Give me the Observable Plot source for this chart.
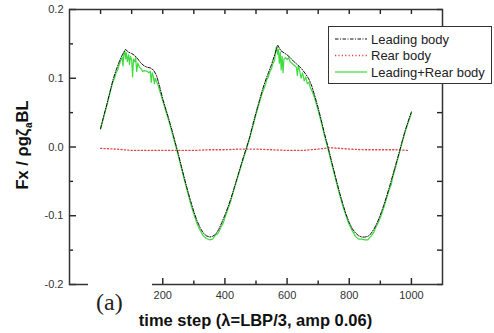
<!DOCTYPE html>
<html><head><meta charset="utf-8">
<script src="https://cdn.jsdelivr.net/npm/d3@7"></script>
<script src="https://cdn.jsdelivr.net/npm/@observablehq/plot@0.6"></script>
<style>
body{margin:0;background:#fff;}
#wrap{position:relative;width:494px;height:333px;}
</style></head><body><div id="wrap"></div>
<script>
// ---- data ----
const leadingStep = [0,10,20,30,40,50,60,70,80,90,100,110,120,130,140,150,160,170,180,190,200,210,220,230,240,250,260,270,280,290,300,310,320,330,340,350,360,370,380,390,400,410,420,430,440,450,460,470,480,490,500,510,520,530,540,550,560,570,580,590,600,610,620,630,640,650,660,670,680,690,700,710,720,730,740,750,760,770,780,790,800,810,820,830,840,850,860,870,880,890,900,910,920,930,940,950,960,970,980,990,1000];
const leadingFx = [0.027,0.045,0.062,0.080,0.098,0.112,0.124,0.134,0.142,0.138,0.136,0.133,0.128,0.122,0.118,0.116,0.115,0.112,0.104,0.088,0.070,0.055,0.040,0.024,0.007,-0.010,-0.028,-0.046,-0.063,-0.079,-0.094,-0.107,-0.117,-0.125,-0.129,-0.131,-0.130,-0.127,-0.120,-0.110,-0.099,-0.087,-0.074,-0.059,-0.044,-0.029,-0.014,0.000,0.015,0.033,0.050,0.066,0.082,0.096,0.108,0.120,0.134,0.148,0.140,0.137,0.134,0.130,0.125,0.121,0.117,0.112,0.106,0.099,0.088,0.073,0.057,0.039,0.020,0.003,-0.015,-0.033,-0.051,-0.068,-0.084,-0.098,-0.110,-0.119,-0.125,-0.129,-0.131,-0.131,-0.130,-0.126,-0.119,-0.110,-0.099,-0.086,-0.072,-0.057,-0.041,-0.025,-0.009,0.008,0.024,0.038,0.051];

const rearStep = [0,50,100,150,200,250,300,350,400,450,500,550,600,650,700,740,800,850,900,950,990];
const rearFx = [-0.002,-0.003,-0.005,-0.005,-0.005,-0.005,-0.005,-0.004,-0.004,-0.003,-0.003,-0.004,-0.005,-0.005,-0.003,-0.001,-0.003,-0.004,-0.004,-0.004,-0.005];

const totalStep = [0,10,20,30,40,45,50,55,60,65,70,72,75,78,80,83,86,90,93,96,100,103,106,110,113,116,120,125,130,135,140,150,155,160,163,166,170,173,176,180,185,190,200,210,220,230,240,250,260,270,280,290,300,310,320,330,340,350,360,370,375,380,390,395,400,410,420,430,440,450,460,470,480,490,500,510,520,530,535,540,545,550,555,560,563,566,569,572,575,578,581,584,587,590,595,600,605,610,620,630,633,636,640,645,650,655,660,665,670,675,680,690,700,710,720,730,740,750,760,770,780,790,800,810,820,830,840,850,860,865,870,880,885,890,900,910,920,930,935,940,950,960,970,980,990,1000];
const totalFx = [0.026,0.043,0.060,0.078,0.095,0.100,0.108,0.112,0.120,0.126,0.130,0.118,0.136,0.140,0.128,0.137,0.124,0.134,0.120,0.132,0.126,0.102,0.128,0.124,0.130,0.110,0.122,0.116,0.114,0.110,0.111,0.110,0.108,0.110,0.094,0.108,0.102,0.092,0.100,0.095,0.090,0.082,0.067,0.052,0.037,0.021,0.004,-0.013,-0.031,-0.049,-0.066,-0.083,-0.098,-0.111,-0.121,-0.129,-0.133,-0.135,-0.134,-0.128,-0.127,-0.124,-0.114,-0.110,-0.103,-0.090,-0.077,-0.061,-0.046,-0.031,-0.016,-0.002,0.013,0.030,0.047,0.063,0.078,0.090,0.098,0.102,0.110,0.114,0.122,0.126,0.140,0.146,0.135,0.142,0.122,0.138,0.112,0.132,0.108,0.128,0.130,0.127,0.130,0.124,0.120,0.116,0.104,0.118,0.112,0.100,0.108,0.096,0.102,0.092,0.094,0.086,0.082,0.069,0.053,0.036,0.017,0.000,-0.018,-0.036,-0.054,-0.071,-0.087,-0.101,-0.113,-0.122,-0.130,-0.134,-0.134,-0.135,-0.135,-0.132,-0.130,-0.123,-0.117,-0.113,-0.103,-0.090,-0.075,-0.060,-0.055,-0.044,-0.028,-0.011,0.006,0.022,0.036,0.049];

const seriesNames = ["Leading body","Rear body","Leading+Rear body"];
const xDomain = [-100,1100];
const yDomain = [-0.2,0.2];
const xMajorTicks = [200,400,600,800,1000];
const xMinorTicks = [0,100,300,500,700,900];
const xTopTicks = [0,100,200,300,400,500,600,700,800,900,1000];
const yMajorTicks = [-0.2,-0.1,0,0.1,0.2];
const yMinorTicks = [-0.15,-0.05,0.05,0.15];
const xTitle = "time step (\u03bb=LBP/3, amp 0.06)";
const panelLabel = "(a)";

// ---- build tables ----
const leading = leadingStep.map((s,i)=>({x:s,y:leadingFx[i]}));
const rear = rearStep.map((s,i)=>({x:s,y:rearFx[i]}));
const total = totalStep.map((s,i)=>({x:s,y:totalFx[i]}));

const colors = {lead:"#111", rear:"#e0474c", total:"#3ddc3d"};
const dash = {lead:"3.5,1.5,1,1.5", rear:"1.2,2.2"};
const tickStyle = {stroke:"#222", strokeWidth:1.4};
const [xLo,xHi] = xDomain, [yLo,yHi] = yDomain;

const plot = Plot.plot({
  width:494, height:333,
  marginLeft:69, marginRight:52, marginTop:9, marginBottom:49,
  style:{fontFamily:"Arial, 'Liberation Sans', sans-serif", fontSize:"11px", color:"#333", background:"#fff"},
  x:{domain:xDomain},
  y:{domain:yDomain},
  marks:[
    Plot.line(rear,{x:"x",y:"y",stroke:colors.rear,strokeWidth:1.3,strokeDasharray:dash.rear}),
    Plot.line(total,{x:"x",y:"y",stroke:colors.total,strokeWidth:1.2}),
    Plot.line(leading,{x:"x",y:"y",stroke:colors.lead,strokeWidth:1,strokeDasharray:dash.lead}),
    // inward ticks (rules anchored on the frame, lengthened by negative insets)
    Plot.ruleX(xMajorTicks,{x:d=>d,y1:yLo,y2:yLo,insetTop:-6,...tickStyle}),
    Plot.ruleX(xMinorTicks,{x:d=>d,y1:yLo,y2:yLo,insetTop:-3.5,...tickStyle}),
    Plot.ruleX(xTopTicks,{x:d=>d,y1:yHi,y2:yHi,insetBottom:-5,...tickStyle}),
    Plot.ruleY(yMajorTicks,{y:d=>d,x1:xLo,x2:xLo,insetRight:-7,...tickStyle}),
    Plot.ruleY(yMinorTicks,{y:d=>d,x1:xLo,x2:xLo,insetRight:-4,...tickStyle}),
    Plot.ruleY(yMajorTicks.concat(yMinorTicks),{y:d=>d,x1:xHi,x2:xHi,insetLeft:-5,...tickStyle}),
    Plot.frame({stroke:"#333",strokeWidth:1.5}),
    Plot.axisX({anchor:"bottom",ticks:xMajorTicks,tickSize:0,tickPadding:7,tickFormat:d=>String(d),label:null}),
    Plot.axisY({anchor:"left",ticks:yMajorTicks,tickSize:0,tickPadding:6,tickFormat:d=>d.toFixed(1),label:null})
  ]
});
document.getElementById("wrap").appendChild(plot);

const svg = d3.select(plot);
const font = "Arial, 'Liberation Sans', sans-serif";

// panel label with white backing
const g = svg.append("g");
g.append("rect").attr("x",88).attr("y",274).attr("width",64).attr("height",40).attr("fill","#fff");
g.append("text").attr("x",96).attr("y",310).attr("text-anchor","start").attr("font-family","'Liberation Serif','DejaVu Serif',serif")
  .attr("font-size",24).attr("fill","#222").text(panelLabel);

// axis titles
svg.append("text").attr("x",255.5).attr("y",326).attr("text-anchor","middle")
  .attr("font-family",font).attr("font-weight","bold").attr("font-size",16.5).attr("fill","#111").text(xTitle);
const yt = svg.append("text").attr("transform","translate(28,145) rotate(-90)").attr("text-anchor","middle")
  .attr("font-family",font).attr("font-weight","bold").attr("font-size",16.5).attr("fill","#111");
yt.append("tspan").text("Fx / \u03c1g\u03b6");
yt.append("tspan").attr("font-size",10).attr("dy",3.5).attr("dx",0.5).text("a");
yt.append("tspan").attr("dy",-3.5).text("BL");

// legend
const lg = svg.append("g");
lg.append("rect").attr("x",328.5).attr("y",26.5).attr("width",163).attr("height",57)
  .attr("fill","#fff").attr("stroke","#333").attr("stroke-width",1);
const ly = [39,55.5,72];
const lstyle = [[colors.lead,dash.lead,1],[colors.rear,dash.rear,1.3],[colors.total,"none",1.2]];
seriesNames.forEach((name,i)=>{
  lg.append("line").attr("x1",335).attr("x2",367).attr("y1",ly[i]).attr("y2",ly[i])
    .attr("stroke",lstyle[i][0]).attr("stroke-width",lstyle[i][2]).attr("stroke-dasharray",lstyle[i][1]);
  lg.append("text").attr("x",371).attr("y",ly[i]).attr("dy","0.35em").attr("text-anchor","start").attr("font-family",font)
    .attr("font-size",13).attr("fill","#222").text(name);
});
</script>
</body></html>
